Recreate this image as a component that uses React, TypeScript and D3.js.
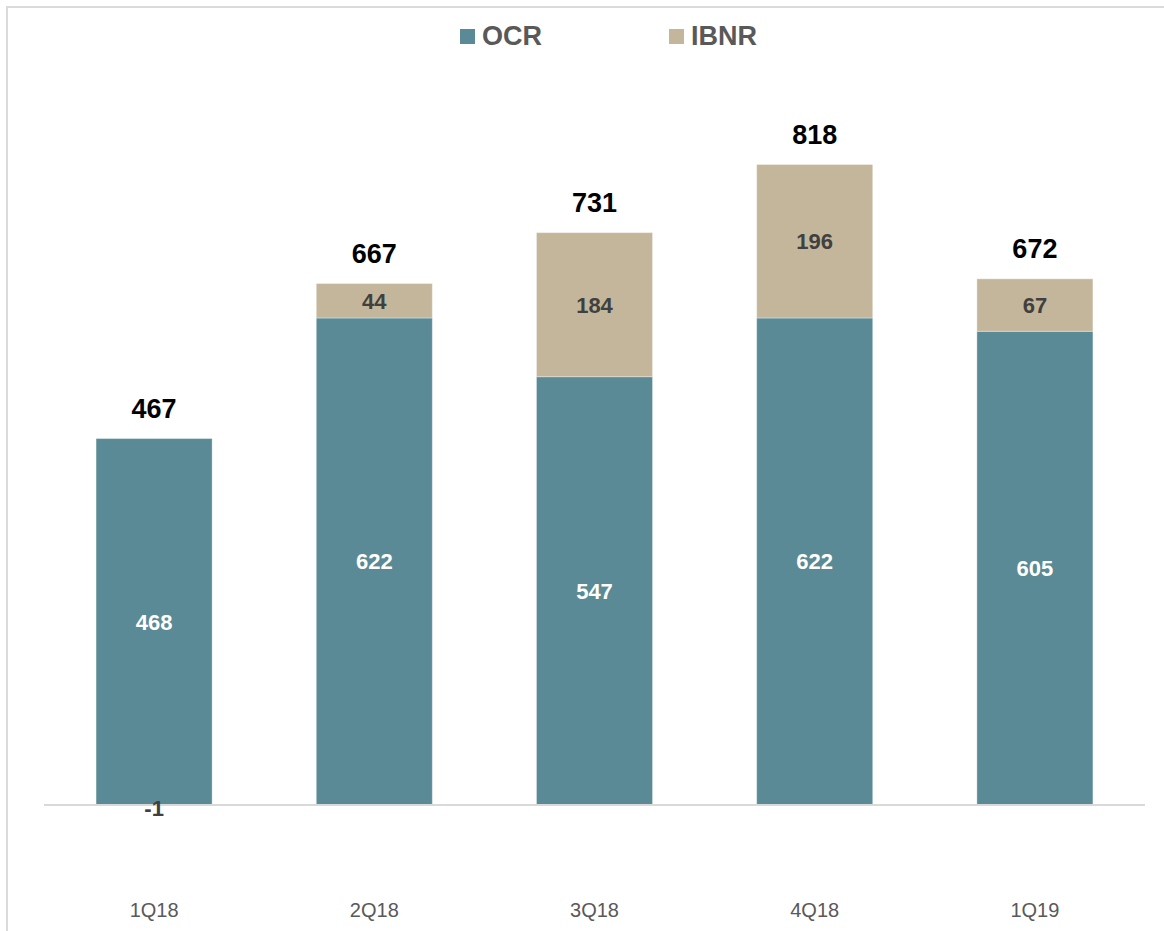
import React from "react";
import * as d3 from "d3";

const categories = ["1Q18", "2Q18", "3Q18", "4Q18", "1Q19"];
const ocrValues = [468, 622, 547, 622, 605];
const ibnrValues = [-1, 44, 184, 196, 67];
const totalValues = [467, 667, 731, 818, 672];
const seriesNames = ["OCR", "IBNR"];

const W = 1164;
const H = 931;
const OCR_COLOR = "#598a95";
const IBNR_COLOR = "#c4b69a";
const FONT = "'Liberation Sans', Arial, Helvetica, sans-serif";

export default function App() {
  const x = d3
    .scaleBand<string>()
    .domain(categories)
    .range([44, 1145])
    .paddingInner(0.473)
    .paddingOuter(0.2365);
  const y = d3.scaleLinear().domain([0, 1000]).range([805, 22]);
  const bw = x.bandwidth();

  const ocrBars = categories.map((c, i) => {
    const v = ocrValues[i];
    const y0 = y(0);
    const y1 = y(v);
    return { c, i, x: x(c)!, top: Math.min(y0, y1), h: Math.abs(y1 - y0), v };
  });
  const ibnrBars = categories.map((c, i) => {
    const base = ibnrValues[i] >= 0 ? ocrValues[i] : 0;
    const end = base + ibnrValues[i];
    const y0 = y(base);
    const y1 = y(end);
    return { c, i, x: x(c)!, top: Math.min(y0, y1), h: Math.abs(y1 - y0), v: ibnrValues[i] };
  });
  const stackTop = categories.map((c, i) =>
    y(ocrValues[i] + Math.max(0, ibnrValues[i]))
  );

  return (
    <svg
      width={W}
      height={H}
      style={{ position: "absolute", left: 0, top: 0, background: "#fff" }}
      fontFamily={FONT}
    >
      <rect x={0} y={0} width={W} height={H} fill="#fff" />
      {/* frame */}
      <line x1={6} y1={7} x2={W} y2={7} stroke="#dadada" strokeWidth={2} />
      <line x1={7} y1={6} x2={7} y2={H} stroke="#dadada" strokeWidth={2} />

      {/* legend */}
      <g>
        <rect x={460} y={29} width={15} height={15} fill={OCR_COLOR} />
        <text x={482} y={45} fontSize={27} fontWeight="bold" fill="#595959">
          {seriesNames[0]}
        </text>
        <rect x={669} y={29} width={15} height={15} fill={IBNR_COLOR} />
        <text x={691} y={45} fontSize={27} fontWeight="bold" fill="#595959">
          {seriesNames[1]}
        </text>
      </g>

      {/* bars */}
      {ocrBars.map((b) => (
        <rect
          key={"o" + b.c}
          x={b.x}
          y={b.top}
          width={bw}
          height={b.h}
          fill={OCR_COLOR}
          stroke="#ffffff"
          strokeOpacity={0.35}
          strokeWidth={1}
        />
      ))}
      {ibnrBars.map((b) => (
        <rect
          key={"i" + b.c}
          x={b.x}
          y={b.top}
          width={bw}
          height={b.h}
          fill={b.v >= 0 ? IBNR_COLOR : OCR_COLOR}
          stroke="#ffffff"
          strokeOpacity={0.35}
          strokeWidth={1}
        />
      ))}

      {/* axis line */}
      <line x1={44} y1={y(0)} x2={1145} y2={y(0)} stroke="#d9d9d9" strokeWidth={2} />

      {/* OCR labels */}
      {ocrBars.map((b) => (
        <text
          key={"ol" + b.c}
          x={b.x + bw / 2}
          y={b.top + b.h / 2}
          dy="0.36em"
          textAnchor="middle"
          fontSize={22}
          fontWeight="bold"
          fill="#ffffff"
        >
          {b.v}
        </text>
      ))}
      {/* IBNR labels */}
      {ibnrBars.map((b) => (
        <text
          key={"il" + b.c}
          x={b.x + bw / 2}
          y={b.top + b.h / 2 + (b.v < 0 ? 3 : 0)}
          dy="0.36em"
          textAnchor="middle"
          fontSize={22}
          fontWeight="bold"
          fill="#404040"
        >
          {b.v}
        </text>
      ))}
      {/* totals */}
      {categories.map((c, i) => (
        <text
          key={"t" + c}
          x={x(c)! + bw / 2}
          y={stackTop[i] - 21}
          textAnchor="middle"
          fontSize={27}
          fontWeight="bold"
          fill="#000000"
        >
          {totalValues[i]}
        </text>
      ))}

      {/* category labels */}
      {categories.map((c) => (
        <text
          key={"c" + c}
          x={x(c)! + bw / 2}
          y={917}
          textAnchor="middle"
          fontSize={20}
          fill="#595959"
        >
          {c}
        </text>
      ))}
    </svg>
  );
}
